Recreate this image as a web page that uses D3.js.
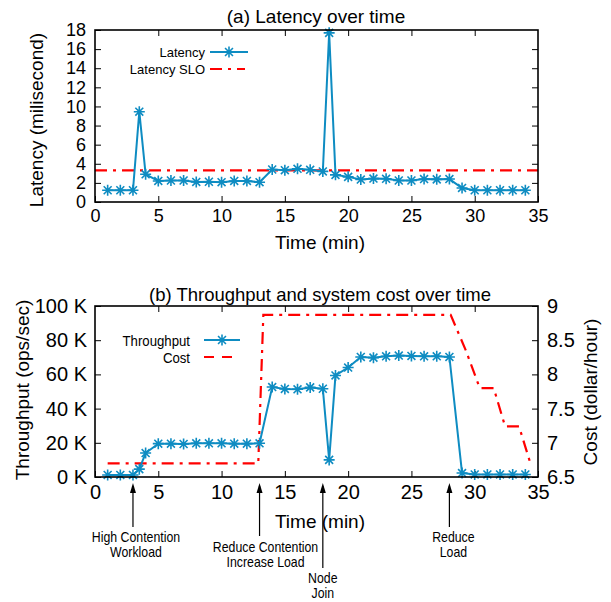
<!DOCTYPE html>
<html><head>
<meta charset="utf-8">
<script src="https://d3js.org/d3.v7.min.js"></script>
<style>
  body { margin: 0; background: #fff; }
  text { font-family: "Liberation Sans", Arial, sans-serif; fill: #000; }
</style>
</head>
<body>
<script>
// minutes at which both series were sampled
var minutes = [1, 2, 3, 3.5, 4, 5, 6, 7, 8, 9, 10, 11, 12, 13, 14, 15, 16, 17, 18, 18.5,
               19, 20, 21, 22, 23, 24, 25, 26, 27, 28, 29, 30, 31, 32, 33, 34];
var latency = [1.23, 1.23, 1.23, 9.45, 2.9, 2.2, 2.25, 2.25, 2.1, 2.12, 2.07, 2.2, 2.2, 2.07,
               3.4, 3.33, 3.47, 3.37, 3.2, 17.7, 2.84, 2.63, 2.35, 2.45, 2.43, 2.25, 2.25, 2.4,
               2.37, 2.4, 1.47, 1.23, 1.23, 1.23, 1.23, 1.23];
var latencySLO = 3.3;
var throughputK = [1.2, 1.2, 1.2, 4.6, 14, 19.5, 19.5, 19.3, 19.7, 19.7, 19.7, 19.5, 19.5, 19.7,
                   52.6, 51.5, 51.3, 52.4, 51.6, 10, 59.4, 64, 70.2, 69.8, 70.6, 71, 70.8, 70.6,
                   70.6, 70.2, 2.3, 1.5, 1.5, 1.5, 1.5, 1.5];
var costTime = [1, 12.9, 13.3, 28.1, 29.3, 30.4, 31.5, 32.4, 33.5, 34.4];
var cost = [6.7, 6.7, 8.87, 8.87, 8.35, 7.8, 7.8, 7.24, 7.24, 6.7];

var xTicks = [0, 5, 10, 15, 20, 25, 30, 35];
var latTicks = [0, 2, 4, 6, 8, 10, 12, 14, 16, 18];
var thrTicks = [0, 20, 40, 60, 80, 100];
var costTicks = [6.5, 7, 7.5, 8, 8.5, 9];
var costTickLabels = ["6.5", "7", "7.5", "8", "8.5", "9"];

var events = [
  {t: 3, lines: ["High Contention", "Workload"]},
  {t: 13, lines: ["Reduce Contention", "Increase Load"]},
  {t: 18, lines: ["Node", "Join"]},
  {t: 28, lines: ["Reduce", "Load"]}
];

var blue = "#0e8cc2", red = "#ff0000";

var svg = d3.select("body").append("svg")
    .attr("width", 611).attr("height", 602);

var left = 95, right = 538;
var x = d3.scaleLinear().domain([0, 35]).range([left, right]);

// gnuplot style '*' point
function star(g, cx, cy, r) {
  var d = r * 0.72;
  g.append("path")
    .attr("d", "M" + (cx - r) + "," + cy + "H" + (cx + r) +
               "M" + cx + "," + (cy - r) + "V" + (cy + r) +
               "M" + (cx - d) + "," + (cy - d) + "L" + (cx + d) + "," + (cy + d) +
               "M" + (cx - d) + "," + (cy + d) + "L" + (cx + d) + "," + (cy - d))
    .attr("stroke", blue).attr("stroke-width", 1.6).attr("fill", "none");
}

// narrow label (the reference uses a condensed face)
function narrow(tx, ty, s, size, anchor) {
  svg.append("text").attr("transform", "translate(" + tx + "," + ty + ") scale(0.88,1)")
    .attr("text-anchor", anchor).style("font-size", size + "px").text(s);
}

function frame(top, bottom, y, yTicks, fmt, fontSize, pad) {
  var g = svg.append("g");
  g.append("g").attr("transform", "translate(0," + bottom + ")")
    .call(d3.axisBottom(x).tickValues(xTicks).tickSize(-6).tickPadding(pad.x))
    .call(function(a) { a.select(".domain").remove(); a.selectAll("text").style("font-size", fontSize.x + "px"); });
  g.append("g").attr("transform", "translate(0," + top + ")")
    .call(d3.axisTop(x).tickValues(xTicks.slice(1, -1)).tickSize(-6).tickFormat(""))
    .call(function(a) { a.select(".domain").remove(); });
  g.append("g").attr("transform", "translate(" + left + ",0)")
    .call(d3.axisLeft(y).tickValues(yTicks).tickSize(-6).tickPadding(pad.y).tickFormat(fmt))
    .call(function(a) { a.select(".domain").remove(); a.selectAll("text").style("font-size", fontSize.y + "px"); });
  return g;
}

// ---------- (a) latency ----------
var topA = 30, botA = 202;
var yA = d3.scaleLinear().domain([0, 18]).range([botA, topA]);
var gA = frame(topA, botA, yA, latTicks, d3.format("d"), {x: 18, y: 18}, {x: 7, y: 9});
gA.append("g").attr("transform", "translate(" + right + ",0)")
  .call(d3.axisRight(yA).tickValues(latTicks.slice(1, -1)).tickSize(-6).tickFormat(""))
  .call(function(a) { a.select(".domain").remove(); });

svg.append("line").attr("x1", left).attr("x2", right)
  .attr("y1", yA(latencySLO)).attr("y2", yA(latencySLO))
  .attr("stroke", red).attr("stroke-width", 2.2).attr("stroke-dasharray", "12,6,3,6");

var lineA = d3.line().x(function(d, i) { return x(minutes[i]); }).y(function(d) { return yA(d); });
svg.append("path").datum(latency).attr("d", lineA)
  .attr("fill", "none").attr("stroke", blue).attr("stroke-width", 2);
var ptsA = svg.append("g");
latency.forEach(function(v, i) { star(ptsA, x(minutes[i]), yA(v), 5.5); });

svg.append("rect").attr("x", left).attr("y", topA).attr("width", right - left).attr("height", botA - topA)
  .attr("fill", "none").attr("stroke", "#000").attr("stroke-width", 1.6);

svg.append("text").attr("x", 316).attr("y", 23).attr("text-anchor", "middle")
  .style("font-size", "19px").text("(a) Latency over time");
svg.append("text").attr("x", 320).attr("y", 249).attr("text-anchor", "middle")
  .style("font-size", "19px").text("Time (min)");
svg.append("text").attr("transform", "translate(43,120) rotate(-90)").attr("text-anchor", "middle")
  .style("font-size", "19px").text("Latency (milisecond)");

// legend (a)
svg.append("text").attr("x", 205).attr("y", 57).attr("text-anchor", "end")
  .style("font-size", "13px").text("Latency");
svg.append("line").attr("x1", 210).attr("x2", 248).attr("y1", 52).attr("y2", 52)
  .attr("stroke", blue).attr("stroke-width", 2);
star(svg, 229, 52, 5.5);
svg.append("text").attr("x", 205).attr("y", 74).attr("text-anchor", "end")
  .style("font-size", "13px").text("Latency SLO");
svg.append("line").attr("x1", 210).attr("x2", 245).attr("y1", 69).attr("y2", 69)
  .attr("stroke", red).attr("stroke-width", 2.2).attr("stroke-dasharray", "12,6,3,6");

// ---------- (b) throughput and cost ----------
var topB = 306, botB = 477;
var yB = d3.scaleLinear().domain([0, 100]).range([botB, topB]);
var yC = d3.scaleLinear().domain([6.5, 9]).range([botB, topB]);
var gB = frame(topB, botB, yB, thrTicks, function(d) { return d + " K"; }, {x: 20, y: 20}, {x: 8, y: 8});
gB.append("g").attr("transform", "translate(" + right + ",0)")
  .call(d3.axisRight(yC).tickValues(costTicks).tickSize(-6).tickPadding(9)
        .tickFormat(function(d, i) { return costTickLabels[i]; }))
  .call(function(a) { a.select(".domain").remove(); a.selectAll("text").style("font-size", "20px"); });

var lineC = d3.line().x(function(d, i) { return x(costTime[i]); }).y(function(d) { return yC(d); });
svg.append("path").datum(cost).attr("d", lineC)
  .attr("fill", "none").attr("stroke", red).attr("stroke-width", 2.2).attr("stroke-dasharray", "12,6,3,6");

var lineB = d3.line().x(function(d, i) { return x(minutes[i]); }).y(function(d) { return yB(d); });
svg.append("path").datum(throughputK).attr("d", lineB)
  .attr("fill", "none").attr("stroke", blue).attr("stroke-width", 2);
var ptsB = svg.append("g");
throughputK.forEach(function(v, i) { star(ptsB, x(minutes[i]), yB(v), 5.5); });

svg.append("rect").attr("x", left).attr("y", topB).attr("width", right - left).attr("height", botB - topB)
  .attr("fill", "none").attr("stroke", "#000").attr("stroke-width", 1.6);

svg.append("text").attr("x", 320).attr("y", 301).attr("text-anchor", "middle")
  .style("font-size", "18.5px").text("(b) Throughput and system cost over time");
svg.append("text").attr("x", 320).attr("y", 528).attr("text-anchor", "middle")
  .style("font-size", "19px").text("Time (min)");
svg.append("text").attr("transform", "translate(29,390) rotate(-90)").attr("text-anchor", "middle")
  .style("font-size", "19px").text("Throughput (ops/sec)");
svg.append("text").attr("transform", "translate(597,392) rotate(-90)").attr("text-anchor", "middle")
  .style("font-size", "19px").text("Cost (dollar/hour)");

// legend (b)
narrow(190, 346, "Throughput", 15, "end");
svg.append("line").attr("x1", 204).attr("x2", 240).attr("y1", 340).attr("y2", 340)
  .attr("stroke", blue).attr("stroke-width", 2);
star(svg, 222, 340, 5.5);
narrow(190, 363, "Cost", 15, "end");
svg.append("line").attr("x1", 204).attr("x2", 232).attr("y1", 357).attr("y2", 357)
  .attr("stroke", red).attr("stroke-width", 2.2).attr("stroke-dasharray", "10,8");

// event annotations
var labelTop = [537, 547, 578, 537];
var arrowEnd = [527, 536, 568, 527];
var labelDx = [3, 6, 0, 4];
events.forEach(function(e, i) {
  var ax = x(e.t);
  svg.append("line").attr("x1", ax).attr("x2", ax).attr("y1", arrowEnd[i]).attr("y2", 486)
    .attr("stroke", "#000").attr("stroke-width", 1.2);
  svg.append("path").attr("d", "M" + (ax - 3) + ",493 L" + ax + ",483 L" + (ax + 3) + ",493 Z")
    .attr("fill", "#000");
  e.lines.forEach(function(s, k) {
    narrow(ax + labelDx[i], labelTop[i] + 5 + k * 15, s, 14, "middle");
  });
});
</script>
</body></html>
